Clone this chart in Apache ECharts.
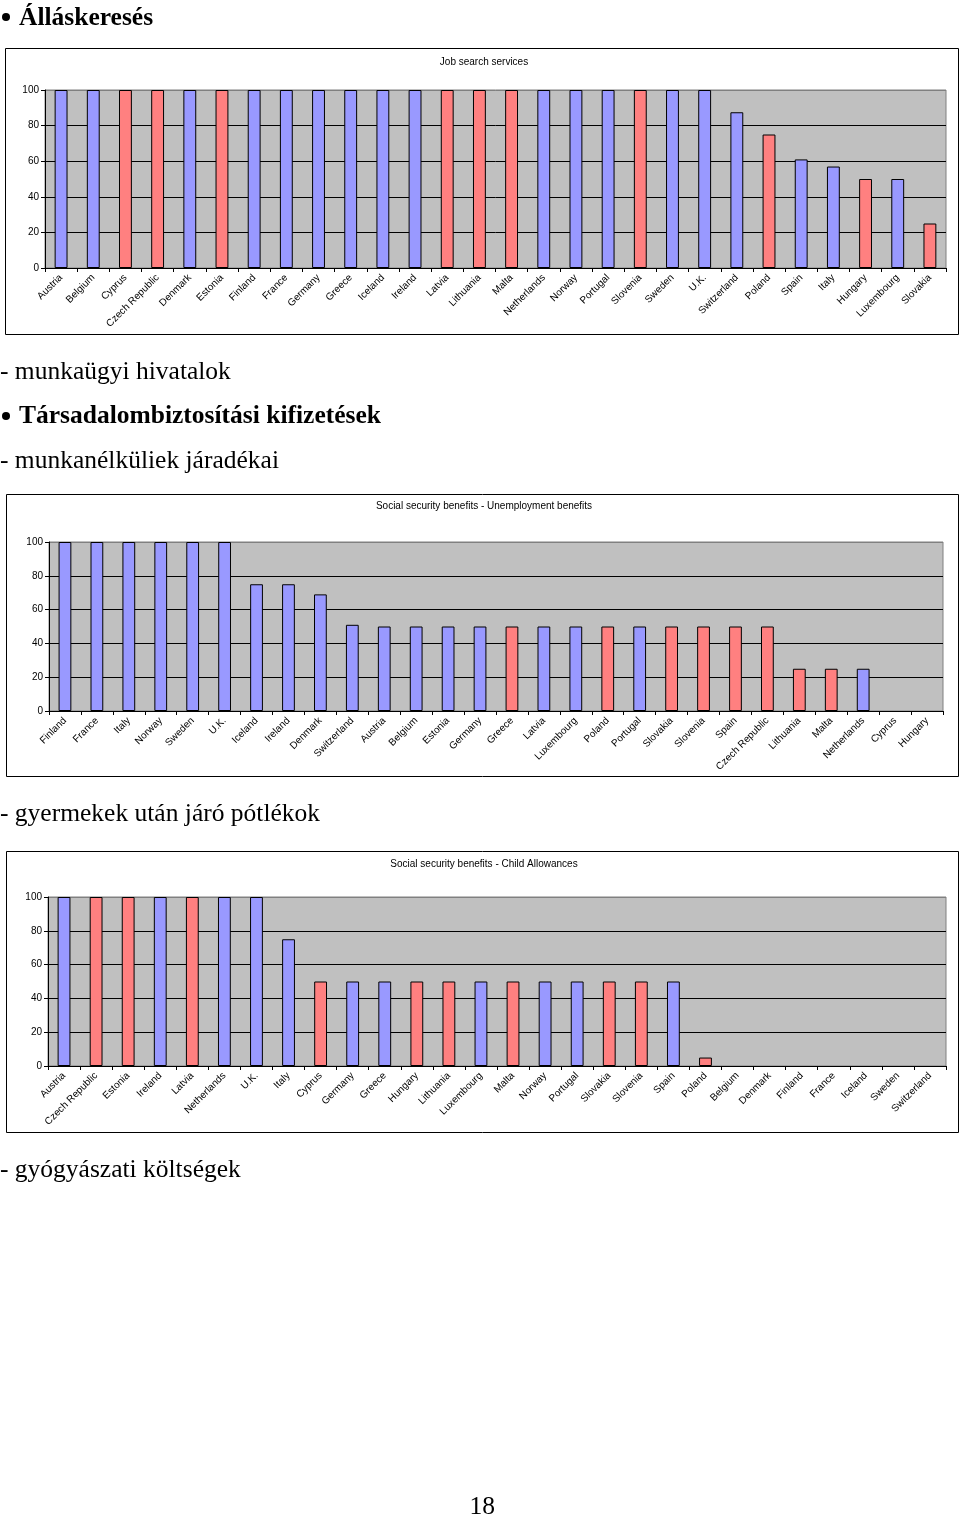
<!DOCTYPE html>
<html><head><meta charset="utf-8">
<script src="https://cdn.jsdelivr.net/npm/echarts@6/dist/echarts.min.js"></script>
<style>
html,body{margin:0;padding:0;background:#fff;}
#wrap{position:relative;width:960px;height:1516px;overflow:hidden;}
#chart{position:absolute;left:0;top:0;width:960px;height:1516px;}
.t{position:absolute;font-family:"Liberation Serif","Times New Roman",serif;font-size:25.5px;line-height:1;color:#000;white-space:nowrap;}
.b{font-weight:bold;}
.dot{position:absolute;width:8px;height:8px;border-radius:50%;background:#000;}
</style></head><body>
<div id="wrap">
<div id="chart"></div>
<div class="dot" style="left:2px;top:12.5px"></div>
<div class="t b" style="left:19px;top:3.6px">Álláskeresés</div>
<div class="t" style="left:0px;top:357.6px">- munkaügyi hivatalok</div>
<div class="dot" style="left:2px;top:412px"></div>
<div class="t b" style="left:19px;top:401.6px">Társadalombiztosítási kifizetések</div>
<div class="t" style="left:0px;top:446.6px">- munkanélküliek járadékai</div>
<div class="t" style="left:0px;top:799.6px">- gyermekek után járó pótlékok</div>
<div class="t" style="left:0px;top:1155.6px">- gyógyászati költségek</div>
<div class="t" style="left:469.5px;top:1492.6px">18</div>
</div>
<script>
// ---- Data ----
const jobTitle = 'Job search services';
const jobCats = ['Austria','Belgium','Cyprus','Czech Republic','Denmark','Estonia','Finland','France','Germany','Greece','Iceland','Ireland','Latvia','Lithuania','Malta','Netherlands','Norway','Portugal','Slovenia','Sweden','U.K.','Switzerland','Poland','Spain','Italy','Hungary','Luxembourg','Slovakia'];
const jobVals = [100,100,100,100,100,100,100,100,100,100,100,100,100,100,100,100,100,100,100,100,100,87.5,75,61,57,50,50,25];
const jobGroup = [0,0,1,1,0,1,0,0,0,0,0,0,1,1,1,0,0,0,1,0,0,0,1,0,0,1,0,1];

const unempTitle = 'Social security benefits - Unemployment benefits';
const unempCats = ['Finland','France','Italy','Norway','Sweden','U.K.','Iceland','Ireland','Denmark','Switzerland','Austria','Belgium','Estonia','Germany','Greece','Latvia','Luxembourg','Poland','Portugal','Slovakia','Slovenia','Spain','Czech Republic','Lithuania','Malta','Netherlands','Cyprus','Hungary'];
const unempVals = [100,100,100,100,100,100,75,75,69,51,50,50,50,50,50,50,50,50,50,50,50,50,50,25,25,25,0,0];
const unempGroup = [0,0,0,0,0,0,0,0,0,0,0,0,0,0,1,0,0,1,0,1,1,1,1,1,1,0,0,0];

const childTitle = 'Social security benefits - Child Allowances';
const childCats = ['Austria','Czech Republic','Estonia','Ireland','Latvia','Netherlands','U.K.','Italy','Cyprus','Germany','Greece','Hungary','Lithuania','Luxembourg','Malta','Norway','Portugal','Slovakia','Slovenia','Spain','Poland','Belgium','Denmark','Finland','France','Iceland','Sweden','Switzerland'];
const childVals = [100,100,100,100,100,100,100,75,50,50,50,50,50,50,50,50,50,50,50,50,5,0,0,0,0,0,0,0];
const childGroup = [0,1,1,0,1,0,0,0,1,0,0,1,1,0,1,0,0,1,1,0,1,0,0,0,0,0,0,0];

const yTicks = [0,20,40,60,80,100];

// ---- Styling / layout ----
const BLUE = '#9999FF', RED = '#FF8080';
const FONT = 'Arial, "Liberation Sans", sans-serif';
const charts = [
  {title: jobTitle, cats: jobCats, vals: jobVals, grp: jobGroup,
   box: [5.5, 48.5, 953, 286], plot: {left:45, top:90, right:960-946, height:178}, tY: 62},
  {title: unempTitle, cats: unempCats, vals: unempVals, grp: unempGroup,
   box: [6.5, 494.5, 952, 282], plot: {left:49, top:542, right:960-943, height:169}, tY: 506.5},
  {title: childTitle, cats: childCats, vals: childVals, grp: childGroup,
   box: [6.5, 851.5, 952, 281], plot: {left:48, top:897, right:960-946, height:169}, tY: 864.5}
];

const grids = [], xAxes = [], yAxes = [], series = [], graphics = [];
charts.forEach((c, i) => {
  grids.push({left: c.plot.left, top: c.plot.top, right: c.plot.right, height: c.plot.height,
    show: true, backgroundColor: '#C0C0C0', borderColor: '#808080', borderWidth: 1, containLabel: false});
  xAxes.push({type: 'category', gridIndex: i, data: c.cats,
    axisLine: {show: true, lineStyle: {color: '#000', width: 1}},
    axisTick: {show: true, length: 4, lineStyle: {color: '#000'}},
    axisLabel: {rotate: 45, interval: 0, fontSize: 10, color: '#000', fontFamily: FONT, margin: 8},
    splitLine: {show: false}});
  yAxes.push({type: 'value', gridIndex: i, min: yTicks[0], max: yTicks[yTicks.length-1], interval: 20,
    axisLine: {show: true, lineStyle: {color: '#000', width: 1}},
    axisTick: {show: true, length: 4, lineStyle: {color: '#000'}},
    axisLabel: {fontSize: 10, color: '#000', fontFamily: FONT, margin: 6},
    splitLine: {show: true, lineStyle: {color: ['#000','#000','#000','#000','#000','#808080'], width: 1}}});
  series.push({type: 'bar', xAxisIndex: i, yAxisIndex: i, barWidth: '40%',
    data: c.vals.map((v, k) => ({value: v, itemStyle: {color: c.grp[k] ? RED : BLUE, borderWidth: v > 0 ? 1 : 0}})),
    itemStyle: {borderColor: '#000', borderWidth: 1}, animation: false, silent: true});
  graphics.push({type: 'rect', shape: {x: c.box[0], y: c.box[1], width: c.box[2], height: c.box[3]},
    style: {fill: 'none', stroke: '#000', lineWidth: 1}, silent: true});
  graphics.push({type: 'text', x: 484, y: c.tY,
    style: {text: c.title, align: 'center', verticalAlign: 'middle', font: '10px ' + FONT, fill: '#000'}});
});

const chart = echarts.init(document.getElementById('chart'), null, {renderer: 'canvas'});
chart.setOption({animation: false, grid: grids, xAxis: xAxes, yAxis: yAxes, series: series, graphic: graphics});
</script>
</body></html>
